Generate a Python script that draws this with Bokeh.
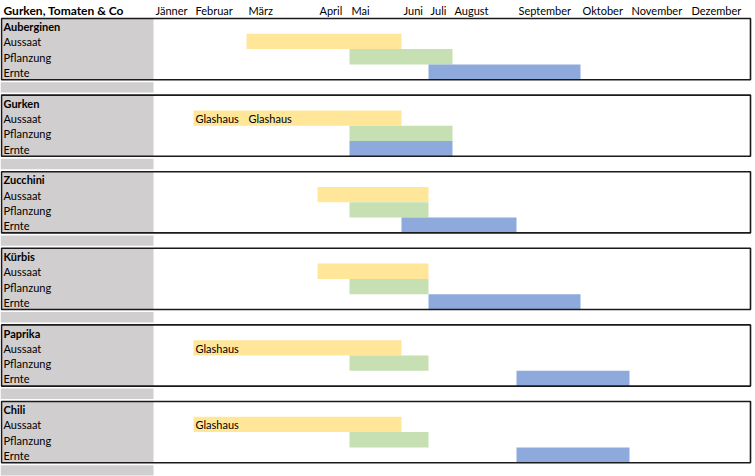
from bokeh.plotting import figure
from bokeh.models import Range1d, ColumnDataSource
from bokeh.embed import file_html
from bokeh.resources import INLINE
from bokeh.core.properties import value

# ---------------- data ----------------
title = "Gurken, Tomaten & Co"
months = ["Jänner", "Februar", "März", "April", "Mai", "Juni", "Juli",
          "August", "September", "Oktober", "November", "Dezember"]
crops = ["Auberginen", "Gurken", "Zucchini", "Kürbis", "Paprika", "Chili"]
stages = ["Aussaat", "Pflanzung", "Ernte"]

# first and last month (0 = Jänner) of each stage, per crop
aussaat_start = [2, 1, 3, 3, 1, 1]
aussaat_end = [4, 4, 5, 5, 4, 4]
pflanzung_start = [4, 4, 4, 4, 4, 4]
pflanzung_end = [6, 6, 5, 5, 5, 5]
ernte_start = [6, 4, 5, 6, 8, 8]
ernte_end = [8, 6, 7, 8, 9, 9]

note_crop = ["Gurken", "Gurken", "Paprika", "Chili"]
note_month = [1, 2, 1, 1]
note_text = ["Glashaus", "Glashaus", "Glashaus", "Glashaus"]

# ---------------- layout (spreadsheet grid) ----------------
W, H = 755, 476
col_edges = [153, 193, 246, 317, 349, 401, 428, 452, 516, 580, 629, 689, 750]
header_h = 18.0
row_h = 15.3
block_step = 76.6
colors = {"Aussaat": "#FFE699", "Pflanzung": "#C6E0B4", "Ernte": "#8EA9DB"}
FONT = "Lato"

p = figure(width=W, height=H, output_backend="svg", toolbar_location=None,
           x_range=Range1d(0, W), y_range=Range1d(H, 0),
           x_axis_location=None, y_axis_location=None, min_border=0)
p.grid.visible = False
p.outline_line_color = None
p.background_fill_color = "white"
p.border_fill_color = "white"

def block_top(i):
    return header_h + i * block_step

# gray label column + spacer rows
gl, gr, gt, gb = [], [], [], []
for i in range(len(crops)):
    t = block_top(i)
    b = t + 4 * row_h
    gl += [1, 0]
    gr += [col_edges[0], col_edges[0]]
    gt += [t, b + 2.5]
    gb += [b, block_top(i + 1) - 2.5]
p.quad(left=gl, right=gr, top=gt, bottom=gb, fill_color="#D0CECE", line_color=None)

# bars
starts = {"Aussaat": aussaat_start, "Pflanzung": pflanzung_start, "Ernte": ernte_start}
ends = {"Aussaat": aussaat_end, "Pflanzung": pflanzung_end, "Ernte": ernte_end}
bl, br, bt, bb, bc = [], [], [], [], []
for i, c in enumerate(crops):
    for k, s in enumerate(stages):
        top = block_top(i) + (k + 1) * row_h
        bl.append(col_edges[starts[s][i]])
        br.append(col_edges[ends[s][i] + 1])
        bt.append(top)
        bb.append(top + row_h)
        bc.append(colors[s])
p.quad(source=ColumnDataSource(dict(left=bl, right=br, top=bt, bottom=bb, color=bc)),
       left="left", right="right", top="top", bottom="bottom",
       fill_color="color", line_color=None)

# block borders
p.quad(left=[1] * len(crops), right=[750] * len(crops),
       top=[block_top(i) for i in range(len(crops))],
       bottom=[block_top(i) + 4 * row_h for i in range(len(crops))],
       fill_color=None, line_color="#1a1a1a", line_width=1.6)

# header texts
p.text(x=[3], y=[header_h / 2 + 1], text=[title], text_font=value(FONT),
       text_font_style="bold", text_font_size="12px", text_baseline="middle",
       text_color="black")
p.text(x=[col_edges[m] + 2 for m in range(len(months))],
       y=[header_h / 2 + 1] * len(months), text=months, text_font=value(FONT),
       text_font_size="11px", text_baseline="middle", text_color="black")

# row labels
nx, ny, nt = [], [], []
lx, ly, lt = [], [], []
for i, c in enumerate(crops):
    nx.append(3)
    ny.append(block_top(i) + row_h / 2 + 0.5)
    nt.append(c)
    for k, s in enumerate(stages):
        lx.append(3)
        ly.append(block_top(i) + (k + 1.5) * row_h + 0.5)
        lt.append(s)
p.text(x=nx, y=ny, text=nt, text_font=value(FONT), text_font_style="bold",
       text_font_size="11px", text_baseline="middle", text_color="black")
p.text(x=lx, y=ly, text=lt, text_font=value(FONT),
       text_font_size="11px", text_baseline="middle", text_color="black")

# notes in bars
p.text(x=[col_edges[m] + 2 for m in note_month],
       y=[block_top(crops.index(c)) + 1.5 * row_h + 0.5 for c in note_crop],
       text=note_text, text_font=value(FONT), text_font_size="11px",
       text_baseline="middle", text_color="black")

open("out.html", "w").write(file_html(p, INLINE))
